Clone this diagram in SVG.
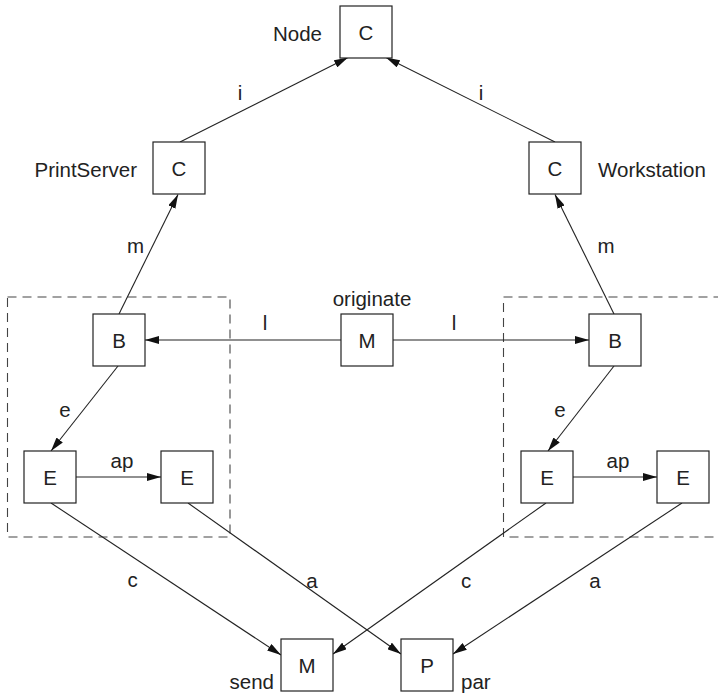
<svg xmlns="http://www.w3.org/2000/svg" width="718" height="695" viewBox="0 0 718 695">
<style>
.box{fill:#fff;stroke:#222;stroke-width:1.2}
.t{font-family:"Liberation Sans",Arial,sans-serif;font-size:20.5px;fill:#222}
.c{text-anchor:middle}
.e{text-anchor:end}
.ln{stroke:#222;stroke-width:1.1;fill:none;marker-end:url(#ah)}
.dash{fill:none;stroke:#444;stroke-width:1.1;stroke-dasharray:9 6}
</style>
<defs>
<marker id="ah" markerUnits="userSpaceOnUse" markerWidth="14" markerHeight="8" refX="14" refY="4" orient="auto">
<path d="M0,0 L14,4 L0,8 z" fill="#111"/>
</marker>
</defs>
<rect class="dash" x="7.5" y="297" width="222.5" height="240"/>
<rect class="dash" x="503.5" y="297" width="240" height="240"/>
<g id="connectors">
<line class="ln" x1="180" y1="142" x2="348" y2="57.5"/>
<line class="ln" x1="555" y1="142" x2="386" y2="57.5"/>
<line class="ln" x1="119" y1="314" x2="178" y2="194.5"/>
<line class="ln" x1="614" y1="314" x2="555" y2="194.5"/>
<line class="ln" x1="341" y1="340" x2="145" y2="340"/>
<line class="ln" x1="393" y1="340" x2="589" y2="340"/>
<line class="ln" x1="118" y1="366" x2="51" y2="451"/>
<line class="ln" x1="614" y1="366" x2="548" y2="451"/>
<line class="ln" x1="76" y1="477" x2="161" y2="477"/>
<line class="ln" x1="573" y1="477" x2="657" y2="477"/>
<line class="ln" x1="51" y1="503" x2="281" y2="655"/>
<line class="ln" x1="188" y1="503" x2="401" y2="654"/>
<line class="ln" x1="546" y1="503" x2="333" y2="654"/>
<line class="ln" x1="682" y1="503" x2="453" y2="654"/>
<text class="t c" x="240" y="100">i</text>
<text class="t c" x="481" y="100">i</text>
<text class="t c" x="135.5" y="253">m</text>
<text class="t c" x="606" y="253">m</text>
<text class="t c" x="265" y="330">l</text>
<text class="t c" x="454" y="330">l</text>
<text class="t c" x="65" y="417">e</text>
<text class="t c" x="560" y="417">e</text>
<text class="t c" x="122" y="468">ap</text>
<text class="t c" x="618" y="468">ap</text>
<text class="t c" x="132.5" y="587">c</text>
<text class="t c" x="312" y="588">a</text>
<text class="t c" x="466" y="588">c</text>
<text class="t c" x="595" y="588">a</text>
</g>
<g id="node-top"><rect class="box" x="340" y="6" width="52" height="52"/><text class="t c" x="366" y="40">C</text><text class="t e" x="322" y="41">Node</text></g>
<g id="node-printserver"><rect class="box" x="153" y="142" width="52" height="52"/><text class="t c" x="179" y="176">C</text><text class="t e" x="137" y="177">PrintServer</text></g>
<g id="node-workstation"><rect class="box" x="529" y="142" width="52" height="52"/><text class="t c" x="555" y="176">C</text><text class="t" x="598" y="177">Workstation</text></g>
<g id="node-bl"><rect class="box" x="93" y="314" width="52" height="52"/><text class="t c" x="119" y="348">B</text></g>
<g id="node-br"><rect class="box" x="589" y="314" width="52" height="52"/><text class="t c" x="615" y="348">B</text></g>
<g id="node-originate"><rect class="box" x="341" y="314" width="52" height="52"/><text class="t c" x="367" y="348">M</text><text class="t c" x="372" y="306">originate</text></g>
<g id="node-el1"><rect class="box" x="24" y="451" width="52" height="52"/><text class="t c" x="50" y="485">E</text></g>
<g id="node-el2"><rect class="box" x="161" y="451" width="52" height="52"/><text class="t c" x="187" y="485">E</text></g>
<g id="node-er1"><rect class="box" x="521" y="451" width="52" height="52"/><text class="t c" x="547" y="485">E</text></g>
<g id="node-er2"><rect class="box" x="657" y="451" width="52" height="52"/><text class="t c" x="683" y="485">E</text></g>
<g id="node-send"><rect class="box" x="281" y="639" width="52" height="52"/><text class="t c" x="307" y="673">M</text><text class="t e" x="274" y="689">send</text></g>
<g id="node-par"><rect class="box" x="401" y="639" width="52" height="52"/><text class="t c" x="427" y="673">P</text><text class="t" x="461" y="689">par</text></g>
</svg>
